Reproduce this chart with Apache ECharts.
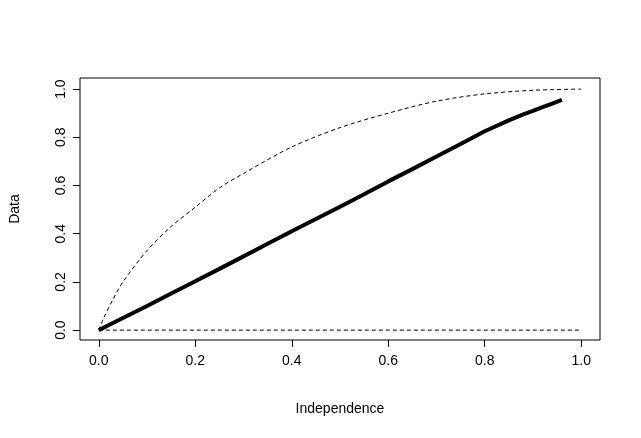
<!DOCTYPE html>
<html><head><meta charset="utf-8">
<script src="https://cdn.jsdelivr.net/npm/echarts@6/dist/echarts.min.js"></script>
<style>html,body{margin:0;background:#fff}#c{width:641px;height:438px}</style></head>
<body><div id="c"></div>
<script>
const tickVals=[0,0.2,0.4,0.6,0.8,1.0];
const tickLabels=['0.0','0.2','0.4','0.6','0.8','1.0'];
const dataX=[0,0.02,0.05,0.1,0.15,0.2,0.25,0.3,0.35,0.4,0.45,0.5,0.55,0.6,0.65,0.7,0.75,0.8,0.85,0.88,0.9,0.92,0.94,0.96];
const dataY=[0,0.02,0.05,0.1,0.152,0.203,0.254,0.306,0.358,0.41,0.461,0.512,0.564,0.617,0.668,0.72,0.772,0.825,0.87,0.895,0.91,0.925,0.94,0.955];
const upperX=[0,0.01,0.03,0.05,0.1,0.15,0.2,0.25,0.3,0.4,0.5,0.6,0.7,0.8,0.9,1.0];
const upperY=[0,0.05,0.13,0.2,0.33,0.43,0.51,0.59,0.65,0.76,0.84,0.9,0.95,0.98,0.995,1.0];
const lowerX=[0,1];const lowerY=[0,0];
const zip=(a,b)=>a.map((v,i)=>[v,b[i]]);
const font='Liberation Sans, Arial, sans-serif';
const fmt=v=>tickLabels[tickVals.findIndex(t=>Math.abs(t-v)<1e-6)];
const chart=echarts.init(document.getElementById('c'));
chart.setOption({
 animation:false,
 grid:{left:78,right:41,top:78,bottom:98,show:true,borderColor:'#000',borderWidth:1,backgroundColor:'transparent'},
 xAxis:{type:'value',min:-0.039,max:1.039,splitLine:{show:false},axisLine:{show:false,onZero:false},
  axisTick:{show:true,inside:false,length:7,customValues:tickVals,lineStyle:{color:'#000'}},
  axisLabel:{customValues:tickVals,formatter:fmt,color:'#000',fontSize:14,fontFamily:font,margin:14},
  name:'Independence',nameLocation:'middle',nameGap:62,nameTextStyle:{color:'#000',fontSize:14,fontFamily:font}},
 yAxis:{type:'value',min:-0.041,max:1.046,splitLine:{show:false},axisLine:{show:false,onZero:false},
  axisTick:{show:true,inside:false,length:7,customValues:tickVals,lineStyle:{color:'#000'}},
  axisLabel:{customValues:tickVals,rotate:90,formatter:fmt,color:'#000',fontSize:14,fontFamily:font,margin:12},
  name:'Data',nameLocation:'middle',nameGap:58,nameTextStyle:{color:'#000',fontSize:14,fontFamily:font}},
 series:[
  {type:'line',data:zip(dataX,dataY),showSymbol:false,lineStyle:{color:'#000',width:4}},
  {type:'line',data:zip(upperX,upperY),showSymbol:false,smooth:0.3,lineStyle:{color:'#000',width:1,type:[4,3]}},
  {type:'line',data:zip(lowerX,lowerY),showSymbol:false,lineStyle:{color:'#000',width:1,type:[4,3]}}
 ]
});
</script></body></html>
